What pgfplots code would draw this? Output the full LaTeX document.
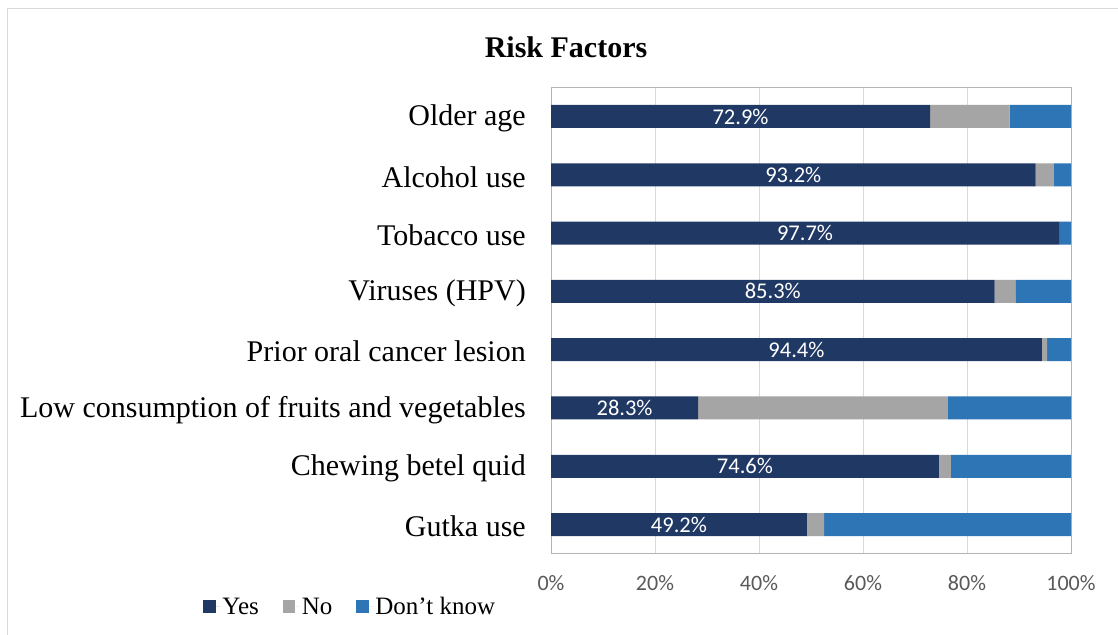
\documentclass[border=0pt]{standalone}
\usepackage{fontspec}
\setmainfont{Liberation Serif}
\newfontfamily\carlito{Carlito}
\usepackage{pgfplots}
\pgfplotsset{compat=1.18}

\definecolor{yescol}{HTML}{203864}
\definecolor{nocol}{HTML}{A5A5A5}
\definecolor{dkcol}{HTML}{2E75B6}
\definecolor{gridcol}{HTML}{D9D9D9}
\definecolor{framecol}{HTML}{B4B4B4}
\definecolor{tickcol}{HTML}{595959}

\begin{document}
\begin{tikzpicture}
\useasboundingbox (0pt,0pt) rectangle (1118pt,-634pt);
\fill[white] (0pt,0pt) rectangle (1118pt,-634pt);
% outer chart frame
\draw[gridcol, line width=1pt] (7pt,-640pt) -- (7pt,-9pt) -- (1125pt,-9pt);
% chart title
\node[font=\bfseries\fontsize{30}{36}\selectfont] at (566pt,-47pt) {Risk Factors};
\coordinate (plotorigin) at (551pt,-553.7pt);

\begin{axis}[
  at={(plotorigin)}, anchor=south west,
  width=520pt, height=466.4pt, scale only axis,
  xbar stacked, bar width=23pt,
  xmin=0, xmax=100, ymin=-0.5, ymax=7.5,
  y dir=reverse,
  ytick={0,...,7},
  yticklabels={Older age, Alcohol use, Tobacco use, Viruses (HPV), Prior oral cancer lesion, Low consumption of fruits and vegetables, Chewing betel quid, Gutka use},
  yticklabel style={font=\fontsize{30}{36}\selectfont, anchor=east, inner sep=0pt, xshift=-25pt, yshift=-2pt},
  xtick={0,20,...,100},
  xticklabels={0\%,20\%,40\%,60\%,80\%,100\%},
  xticklabel style={font=\carlito\fontsize{22}{26}\selectfont, text=tickcol, anchor=center, inner sep=0pt, yshift=-29pt},
  major tick length=0pt,
  xmajorgrids, major grid style={gridcol, line width=1pt},
  axis line style={framecol, line width=1pt},
  /pgf/number format/assume math mode=true,
  legend columns=3,
  legend style={at={(-0.386,-0.114)}, anchor=center, draw=none, fill=none,
    font=\fontsize{25}{30}\selectfont,
    /tikz/every even column/.append style={column sep=22pt}},
  legend image code/.code={\fill[#1] (0pt,-6pt) rectangle (12.5pt,6.5pt);
    \path (0pt,0pt) -- (17pt,0pt);},
]
% Yes (value label centred in its bar)
\addplot[fill=yescol, draw=none,
  point meta=x,
  nodes near coords={\pgfmathprintnumber[fixed,fixed zerofill,precision=1]{\pgfplotspointmeta}\%},
  every node near coord/.append style={anchor=center, text=white,
    font=\carlito\fontsize{22.5}{27}\selectfont}]
  coordinates {(72.9,0) (93.2,1) (97.7,2) (85.3,3) (94.4,4) (28.3,5) (74.6,6) (49.2,7)};
% No
\addplot[fill=nocol, draw=none]
  coordinates {(15.3,0) (3.5,1) (0,2) (4.0,3) (1.0,4) (48.0,5) (2.3,6) (3.3,7)};
% Don't know
\addplot[fill=dkcol, draw=none]
  coordinates {(11.8,0) (3.3,1) (2.3,2) (10.7,3) (4.6,4) (23.7,5) (23.1,6) (47.5,7)};
\legend{Yes, No, Don’t know}
\end{axis}
\end{tikzpicture}
\end{document}
